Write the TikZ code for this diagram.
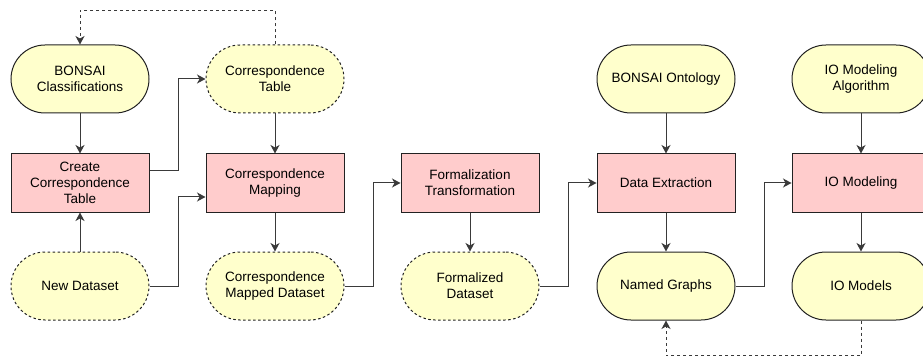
\documentclass[tikz,border=0pt]{standalone}
\usepackage{fontspec}
\setmainfont{Liberation Sans}
\usetikzlibrary{arrows.meta, calc}

\definecolor{datafill}{HTML}{FFFFCC}
\definecolor{stepfill}{HTML}{FFCCCC}
\definecolor{linegray}{HTML}{222222}
\definecolor{edgegray}{HTML}{3A3A3A}

\begin{document}
\begin{tikzpicture}[
    x=1pt, y=-1pt,
    >={Stealth[length=8.5pt, width=9pt, inset=2.5pt]},
    line width=1pt,
    font=\fontsize{13.5}{15.7}\selectfont,
    data/.style={draw=linegray, fill=datafill, rounded corners=34pt,
        minimum width=138pt, minimum height=68pt, align=center, inner sep=2pt},
    newdata/.style={data, dash pattern=on 2.5pt off 2.5pt},
    process/.style={draw=linegray, fill=stepfill, minimum width=138pt,
        minimum height=58pt, align=center, inner sep=2pt},
    flow/.style={->, draw=edgegray},
    loopback/.style={->, draw=edgegray, dash pattern=on 3pt off 3pt}
]
    \useasboundingbox (0,0) rectangle (923,358);

    % Inputs (top row)
    \node[data]    (bcls)  at (80,79)  {BONSAI\\Classifications};
    \node[newdata] (ctab)  at (275,79) {Correspondence\\Table};
    \node[data]    (bont)  at (666,79) {BONSAI Ontology};
    \node[data]    (ioalg) at (861,79) {IO Modeling\\Algorithm};

    % Processing steps (middle row)
    \node[process] (mkct) at (80,183)  {Create\\Correspondence\\Table};
    \node[process] (cmap) at (275,183) {Correspondence\\Mapping};
    \node[process] (ftr)  at (470,183) {Formalization\\Transformation};
    \node[process] (dex)  at (666,183) {Data Extraction};
    \node[process] (iom)  at (861,183) {IO Modeling};

    % Results (bottom row)
    \node[newdata] (newd)   at (80,286)  {New Dataset};
    \node[newdata] (cmds)   at (275,286) {Correspondence\\Mapped Dataset};
    \node[newdata] (fds)    at (470,286) {Formalized\\Dataset};
    \node[data]    (ngr)    at (666,286) {Named Graphs};
    \node[data]    (iomods) at (861,286) {IO Models};

    % Vertical flows
    \foreach \from/\to in {bcls/mkct, newd/mkct, ctab/cmap, cmap/cmds,
        ftr/fds, bont/dex, dex/ngr, ioalg/iom, iom/iomods} {
        \draw[flow] (\from) -- (\to);
    }

    % Elbow flows to the next column
    \draw[flow] ([yshift=12pt]mkct.east) -- ++(29,0) |- (ctab.west);
    \draw[flow] (newd.east) -- ++(29,0) |- ([yshift=-14pt]cmap.west);
    \foreach \from/\to in {cmds/ftr, fds/dex, ngr/iom} {
        \draw[flow] (\from.east) -- ++(28.5,0) |- (\to.west);
    }

    % Feedback loops
    \draw[loopback] (ctab.north) -- ++(0,-34) -| (bcls.north);
    \draw[loopback] (iomods.south) -- ++(0,35) -| (ngr.south);

\end{tikzpicture}
\end{document}
